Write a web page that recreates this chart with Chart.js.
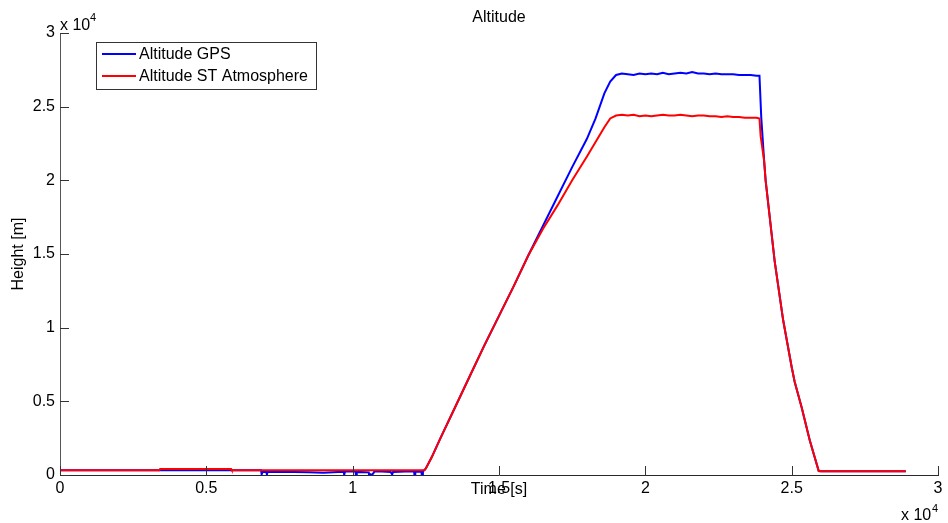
<!DOCTYPE html>
<html>
<head>
<meta charset="utf-8">
<script src="https://cdn.jsdelivr.net/npm/chart.js@4/dist/chart.umd.min.js"></script>
<style>
  html, body { margin: 0; padding: 0; background: #ffffff; }
  #wrap { width: 948px; height: 523px; }
</style>
</head>
<body>
<div id="wrap"><canvas id="c" width="948" height="523"></canvas></div>
<script>
// ---- data (time in s, height in m) ----
const chartTitle = "Altitude";
const seriesNames = ["Altitude GPS", "Altitude ST Atmosphere"];
const xTicks = [0, 5000, 10000, 15000, 20000, 25000, 30000];
const yTicks = [0, 5000, 10000, 15000, 20000, 25000, 30000];

const timeGps = [
  0, 6870, 6880, 6900, 6920, 7050, 7070, 7090, 8000, 8500, 9000, 9500, 9700, 9710, 9730, 9740,
  10100, 10110, 10130, 10140, 10550, 10560, 10600, 10650, 10700, 10740, 11000, 11300, 11350, 11380,
  11800, 12000, 12100, 12110, 12130, 12140, 12350, 12360, 12380, 12400, 12450,
  12500, 12700, 13000, 13500, 14000, 14500, 15000, 15500, 16000,
  16500, 17000, 17500, 18000, 18300, 18600, 18800, 19000,
  19200, 19400, 19600, 19800, 20000, 20200, 20400, 20600, 20800, 21000, 21200, 21400, 21600,
  21800, 22000, 22200, 22400, 22600, 22800, 23000, 23200, 23400, 23600, 23800, 23900,
  23960, 24060, 24110, 24420, 24710, 25000, 25100, 25340, 25620, 25925, 26000, 28900
];
const altGps = [
  330, 330, 40, 40, 200, 210, 30, 200, 210, 180, 160, 200, 200, 0, 0, 230,
  230, 20, 20, 210, 180, 0, 50, 0, 100, 230, 240, 210, 30, 210,
  240, 230, 230, 0, 0, 220, 220, 0, 0, 280, 330,
  440, 1200, 2500, 4600, 6700, 8800, 10800, 12800, 14900,
  16900, 18900, 20900, 22800, 24200, 25900, 26700, 27150,
  27250, 27200, 27150, 27250, 27200, 27250, 27200, 27300, 27200, 27250, 27300, 27250, 27350,
  27250, 27250, 27200, 27250, 27200, 27200, 27200, 27150, 27150, 27150, 27100, 27100,
  24300, 21300, 20000, 14500, 10500, 7330, 6350, 4600, 2340, 270, 250, 250
];

const timeAtm = [
  0, 3400, 3420, 5850, 5870, 12450,
  12500, 12700, 13000, 13500, 14000, 14500, 15000, 15500, 16000,
  16500, 17000, 17500, 18000, 18300, 18600, 18800, 19000,
  19200, 19400, 19600, 19800, 20000, 20200, 20400, 20600, 20800, 21000, 21200, 21400, 21600,
  21800, 22000, 22200, 22400, 22600, 22800, 23000, 23200, 23400, 23600, 23800, 23900,
  23940, 24060, 24110, 24420, 24710, 25000, 25100, 25340, 25620, 25925, 26000, 28900
];
const altAtm = [
  330, 330, 400, 400, 330, 330,
  440, 1200, 2500, 4600, 6700, 8800, 10800, 12800, 14900,
  16700, 18300, 20000, 21600, 22600, 23600, 24200, 24400,
  24450, 24400, 24450, 24350, 24400, 24350, 24400, 24450, 24400, 24400, 24450, 24400, 24350,
  24400, 24400, 24350, 24350, 24300, 24350, 24300, 24300, 24250, 24250, 24250, 24200,
  23000, 21300, 20000, 14500, 10500, 7330, 6350, 4600, 2340, 270, 250, 250
];

const FONT = "'Liberation Sans', Arial, Helvetica, sans-serif";
const gpsColor = "#0000ff";
const atmColor = "#ff0000";

const toPts = (ts, vs) => ts.map((t, i) => ({ x: t, y: vs[i] }));

const decorations = {
  id: "decorations",
  afterDraw(chart) {
    const ctx = chart.ctx;
    const xs = chart.scales.x, ys = chart.scales.y;
    const area = chart.chartArea;
    ctx.save();
    // inward tick marks
    ctx.strokeStyle = "#333333";
    ctx.lineWidth = 1;
    ctx.beginPath();
    xs.ticks.forEach(t => {
      const px = Math.round(xs.getPixelForValue(t.value)) + 0.5;
      ctx.moveTo(px, area.bottom);
      ctx.lineTo(px, area.bottom - 9);
    });
    ys.ticks.forEach(t => {
      const py = Math.round(ys.getPixelForValue(t.value)) + 0.5;
      ctx.moveTo(area.left, py);
      ctx.lineTo(area.left + 9, py);
    });
    ctx.stroke();

    // title
    ctx.fillStyle = "#000000";
    ctx.font = "16px " + FONT;
    ctx.textAlign = "center";
    ctx.textBaseline = "alphabetic";
    ctx.fillText(chartTitle, (area.left + area.right) / 2, 22);

    // exponent labels
    ctx.textAlign = "left";
    ctx.font = "16px " + FONT;
    ctx.fillText("x 10", area.left, 29.5);
    ctx.fillText("x 10", 901, 520);
    ctx.font = "11px " + FONT;
    ctx.fillText("4", area.left + 30, 21);
    ctx.fillText("4", 932, 512);

    // legend
    const lx = 96.5, ly = 42.5, lw = 220, lh = 47;
    ctx.fillStyle = "#ffffff";
    ctx.fillRect(lx, ly, lw, lh);
    ctx.strokeStyle = "#333333";
    ctx.strokeRect(lx, ly, lw, lh);
    const items = [chart.data.datasets[1], chart.data.datasets[0]];
    const rows = [54, 76];
    ctx.font = "16px " + FONT;
    ctx.textBaseline = "middle";
    items.forEach((ds, i) => {
      ctx.strokeStyle = ds.borderColor;
      ctx.lineWidth = 2;
      ctx.beginPath();
      ctx.moveTo(102, rows[i]);
      ctx.lineTo(136, rows[i]);
      ctx.stroke();
      ctx.fillStyle = "#000000";
      ctx.fillText(ds.label, 139, rows[i] + 1);
    });
    ctx.restore();
  }
};

new Chart(document.getElementById("c"), {
  type: "line",
  data: {
    datasets: [
      {
        label: seriesNames[1],
        data: toPts(timeAtm, altAtm),
        borderColor: atmColor,
        backgroundColor: atmColor,
        borderWidth: 2,
        pointRadius: 0,
        tension: 0,
        order: 0
      },
      {
        label: seriesNames[0],
        data: toPts(timeGps, altGps),
        borderColor: gpsColor,
        backgroundColor: gpsColor,
        borderWidth: 2,
        pointRadius: 0,
        tension: 0,
        order: 1
      }
    ]
  },
  options: {
    responsive: false,
    animation: false,
    layout: { padding: { top: 33, right: 10, left: 0, bottom: 0 } },
    plugins: {
      legend: { display: false },
      title: { display: false },
      tooltip: { enabled: false }
    },
    scales: {
      x: {
        type: "linear",
        min: 0,
        max: 30000,
        afterBuildTicks: s => { s.ticks = xTicks.map(v => ({ value: v })); },
        afterFit: s => { s.height = 48; },
        ticks: {
          autoSkip: false,
          maxRotation: 0,
          padding: 4,
          color: "#000000",
          font: { family: FONT, size: 16 },
          callback: v => String(v / 10000)
        },
        grid: { display: true, drawOnChartArea: false, drawTicks: false },
        border: { display: true, color: "#2a2a2a", width: 1 },
        title: {
          display: true,
          text: "Time [s]",
          color: "#000000",
          font: { family: FONT, size: 16 },
          padding: { top: 0, bottom: 24 }
        }
      },
      y: {
        type: "linear",
        min: 0,
        max: 30000,
        afterBuildTicks: s => { s.ticks = yTicks.map(v => ({ value: v })); },
        afterFit: s => { s.width = 60; },
        ticks: {
          autoSkip: false,
          padding: 5,
          color: "#000000",
          font: { family: FONT, size: 16 },
          callback: v => String(v / 10000)
        },
        grid: { display: true, drawOnChartArea: false, drawTicks: false },
        border: { display: true, color: "#555555", width: 1 },
        title: {
          display: true,
          text: "Height [m]",
          color: "#000000",
          font: { family: FONT, size: 16 },
          padding: { top: 9, bottom: 0 }
        }
      }
    }
  },
  plugins: [decorations]
});
</script>
</body>
</html>
